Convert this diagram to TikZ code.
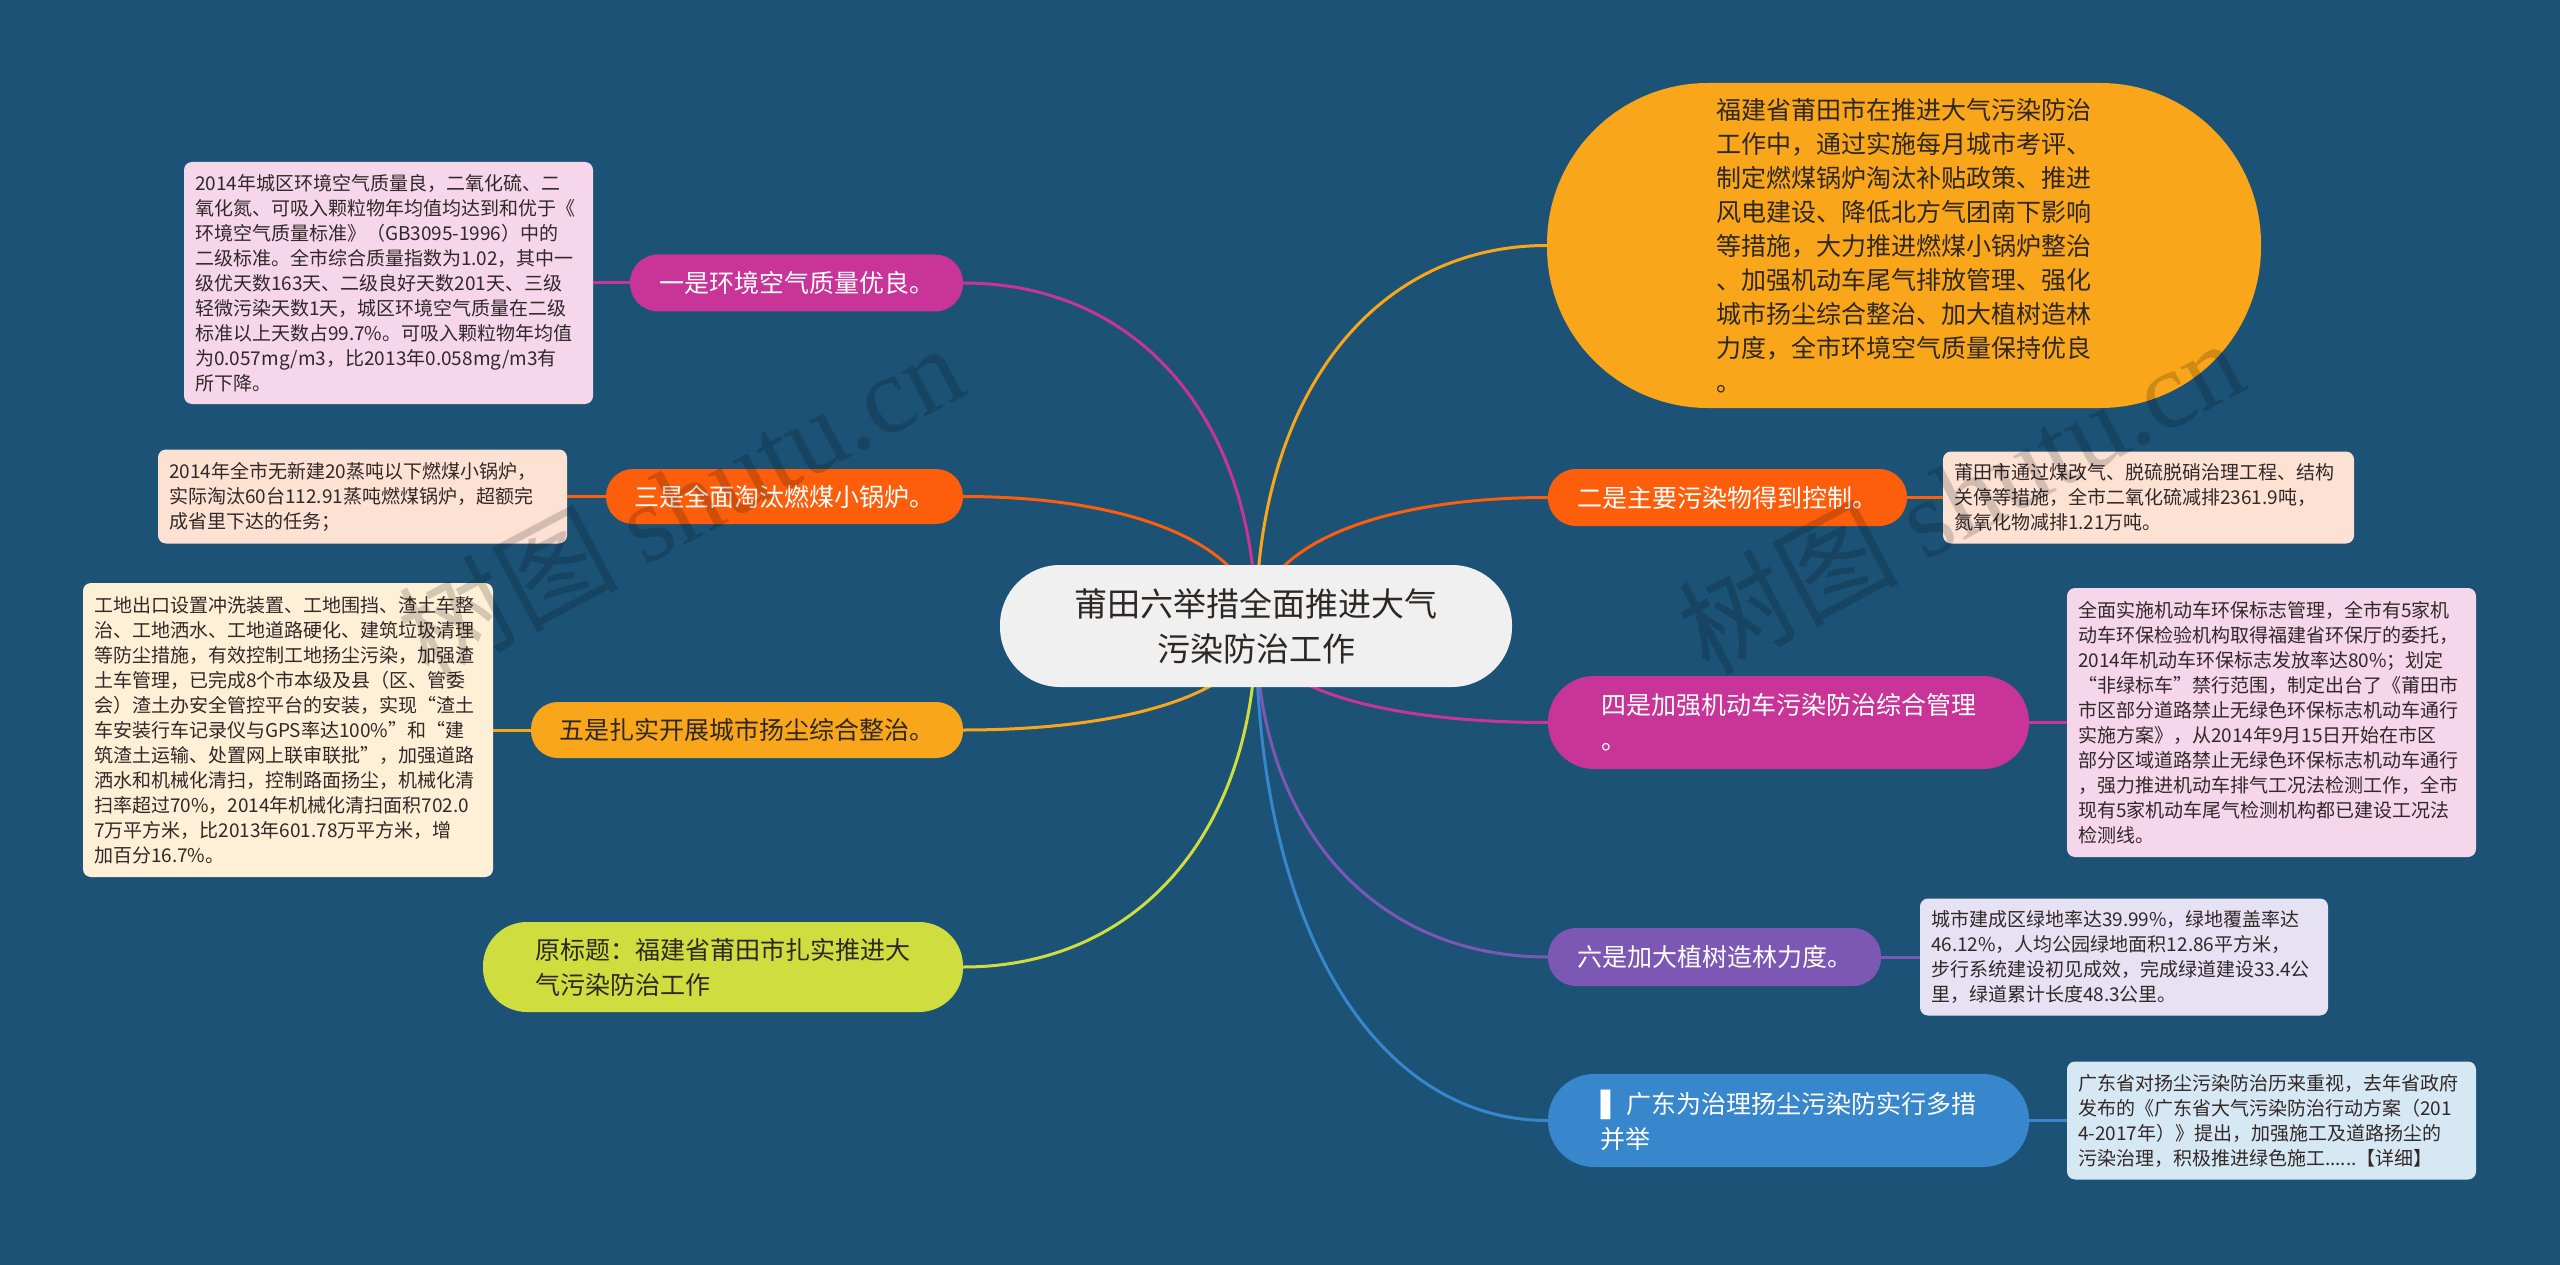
\documentclass[tikz,border=0pt]{standalone}
\usepackage{fontspec}
\setmainfont{Noto Sans CJK SC}
\newfontfamily\dejavu{DejaVu Sans}
\newfontfamily\wmserif{Liberation Serif}
\usetikzlibrary{calc}
\definecolor{bgblue}{RGB}{27,82,118}
\definecolor{rootfill}{RGB}{240,240,240}
\definecolor{cOrange}{RGB}{250,166,26}
\definecolor{cRed}{RGB}{252,94,12}
\definecolor{cMag}{RGB}{200,52,152}
\definecolor{cLime}{RGB}{207,222,62}
\definecolor{cPurple}{RGB}{125,87,180}
\definecolor{cBlue}{RGB}{56,134,204}
\definecolor{dPink}{RGB}{245,214,235}
\definecolor{dPeach}{RGB}{253,226,212}
\definecolor{dCream}{RGB}{254,240,214}
\definecolor{dLav}{RGB}{230,226,244}
\definecolor{dBlue}{RGB}{215,232,245}
\definecolor{dtext}{RGB}{50,40,40}
\definecolor{darktext}{RGB}{45,40,35}
\pgfdeclarelayer{bg}
\pgfdeclarelayer{edges}
\pgfsetlayers{bg,edges,main}
\tikzset{
  lvl/.style={draw=none, inner sep=0pt, align=left, text=white,
    font=\fontsize{25}{35}\selectfont},
  det/.style={draw=none, inner xsep=11pt, inner ysep=0pt, align=left, text=dtext,
    rounded corners=8pt, font=\fontsize{19}{25}\selectfont},
  link/.style={line width=3pt},
  wmark/.style={rotate=28, opacity=0.17, text=black, font=\fontsize{110}{110}\selectfont}
}
\newcommand\rootlink[2]{%
  \draw[#1, link] (root.center) .. controls ($(root.center)!0.6!(root.center |- #2)$) and ($(#2)!0.6!(#2 -| root.center)$) .. (#2);%
}
\begin{document}
\begin{tikzpicture}[x=1pt,y=-1pt]
\begin{pgfonlayer}{bg}
\fill[bgblue] (0,0) rectangle (2560,1265);
\end{pgfonlayer}
\useasboundingbox (0,0) rectangle (2560,1265);

% root
\node[draw=none, fill=rootfill, text=darktext, minimum width=512pt, minimum height=122pt,
  rounded corners=60pt, inner sep=0pt, align=center, font=\fontsize{33}{45}\selectfont]
  (root) at (1256,626) {莆田六举措全面推进大气\\污染防治工作};

% right level-1
\node[lvl, fill=cOrange, text=darktext, minimum width=714pt, minimum height=325pt,
  rounded corners=161pt, font=\fontsize{25}{34}\selectfont]
  (big) at (1904,245.5) {福建省莆田市在推进大气污染防治\\工作中，通过实施每月城市考评、\\制定燃煤锅炉淘汰补贴政策、推进\\风电建设、降低北方气团南下影响\\等措施，大力推进燃煤小锅炉整治\\、加强机动车尾气排放管理、强化\\城市扬尘综合整治、加大植树造林\\力度，全市环境空气质量保持优良\\。};
\node[lvl, fill=cRed, minimum width=359pt, minimum height=57pt, rounded corners=28pt]
  (n2) at (1727.5,497.5) {二是主要污染物得到控制。};
\node[lvl, fill=cMag, minimum width=481pt, minimum height=93pt, rounded corners=46pt]
  (n4) at (1788.5,722.5) {四是加强机动车污染防治综合管理\\。};
\node[lvl, fill=cPurple, minimum width=333pt, minimum height=58pt, rounded corners=28pt]
  (n6) at (1714.5,957) {六是加大植树造林力度。};
\node[lvl, fill=cBlue, minimum width=481pt, minimum height=93pt, rounded corners=46pt]
  (n9) at (1788.5,1120.5) {{\dejavu ▌}\hspace{6pt}广东为治理扬尘污染防实行多措\\并举};

% left level-1
\node[lvl, fill=cMag, minimum width=333pt, minimum height=57pt, rounded corners=28pt]
  (n1) at (796.5,283) {一是环境空气质量优良。};
\node[lvl, fill=cRed, minimum width=357pt, minimum height=55pt, rounded corners=27pt]
  (n3) at (784.5,496.5) {三是全面淘汰燃煤小锅炉。};
\node[lvl, fill=cOrange, text=darktext, minimum width=432pt, minimum height=56pt, rounded corners=27pt]
  (n5) at (747,730) {五是扎实开展城市扬尘综合整治。};
\node[lvl, fill=cLime, text=darktext, minimum width=480pt, minimum height=90pt, rounded corners=44pt]
  (n7) at (723,967) {原标题：福建省莆田市扎实推进大\\气污染防治工作};

% detail boxes
\node[det, fill=dPink, text width=387pt, minimum height=242pt]
  (d1) at (388.5,283) {2014年城区环境空气质量良，二氧化硫、二\\氧化氮、可吸入颗粒物年均值均达到和优于《\\环境空气质量标准》（GB3095-1996）中的\\二级标准。全市综合质量指数为1.02，其中一\\级优天数163天、二级良好天数201天、三级\\轻微污染天数1天，城区环境空气质量在二级\\标准以上天数占99.7\%。可吸入颗粒物年均值\\为0.057mg/m3，比2013年0.058mg/m3有\\所下降。};
\node[det, fill=dPeach, text width=387pt, minimum height=94pt]
  (d3) at (362.5,496.5) {2014年全市无新建20蒸吨以下燃煤小锅炉，\\实际淘汰60台112.91蒸吨燃煤锅炉，超额完\\成省里下达的任务；};
\node[det, fill=dCream, text width=388pt, minimum height=294pt]
  (d5) at (288,730) {工地出口设置冲洗装置、工地围挡、渣土车整\\治、工地洒水、工地道路硬化、建筑垃圾清理\\等防尘措施，有效控制工地扬尘污染，加强渣\\土车管理，已完成8个市本级及县（区、管委\\会）渣土办安全管控平台的安装，实现“渣土\\车安装行车记录仪与GPS率达100\%”和“建\\筑渣土运输、处置网上联审联批”，加强道路\\洒水和机械化清扫，控制路面扬尘，机械化清\\扫率超过70\%，2014年机械化清扫面积702.0\\7万平方米，比2013年601.78万平方米，增\\加百分16.7\%。};
\node[det, fill=dPeach, text width=389pt, minimum height=92pt]
  (d2) at (2148.5,497.5) {莆田市通过煤改气、脱硫脱硝治理工程、结构\\关停等措施，全市二氧化硫减排2361.9吨，\\氮氧化物减排1.21万吨。};
\node[det, fill=dPink, text width=387pt, minimum height=269pt]
  (d4) at (2271.5,722.5) {全面实施机动车环保标志管理，全市有5家机\\动车环保检验机构取得福建省环保厅的委托，\\2014年机动车环保标志发放率达80\%；划定\\“非绿标车”禁行范围，制定出台了《莆田市\\市区部分道路禁止无绿色环保标志机动车通行\\实施方案》，从2014年9月15日开始在市区\\部分区域道路禁止无绿色环保标志机动车通行\\，强力推进机动车排气工况法检测工作，全市\\现有5家机动车尾气检测机构都已建设工况法\\检测线。};
\node[det, fill=dLav, text width=386pt, minimum height=117pt]
  (d6) at (2124,957) {城市建成区绿地率达39.99\%，绿地覆盖率达\\46.12\%，人均公园绿地面积12.86平方米，\\步行系统建设初见成效，完成绿道建设33.4公\\里，绿道累计长度48.3公里。};
\node[det, fill=dBlue, text width=387pt, minimum height=118pt]
  (d9) at (2271.5,1120.5) {广东省对扬尘污染防治历来重视，去年省政府\\发布的《广东省大气污染防治行动方案（201\\4-2017年）》提出，加强施工及道路扬尘的\\污染治理，积极推进绿色施工......【详细】};

% connectors
\begin{pgfonlayer}{edges}
\rootlink{cOrange}{big.west}
\rootlink{cRed}{n2.west}
\rootlink{cMag}{n4.west}
\rootlink{cPurple}{n6.west}
\rootlink{cBlue}{n9.west}
\rootlink{cMag}{n1.east}
\rootlink{cRed}{n3.east}
\rootlink{cOrange}{n5.east}
\rootlink{cLime}{n7.east}
\draw[cMag, link] (d1.east) -- (n1.west);
\draw[cRed, link] (d3.east) -- (n3.west);
\draw[cOrange, link] (d5.east) -- (n5.west);
\draw[cRed, link] (n2.east) -- (d2.west);
\draw[cMag, link] (n4.east) -- (d4.west);
\draw[cPurple, link] (n6.east) -- (d6.west);
\draw[cBlue, link] (n9.east) -- (d9.west);
\end{pgfonlayer}

% watermarks
\node[wmark] (wm1) at (680,500) {树图 {\wmserif shutu.cn}};
\node[wmark] (wm2) at (1960,495) {树图 {\wmserif shutu.cn}};
\end{tikzpicture}
\end{document}
